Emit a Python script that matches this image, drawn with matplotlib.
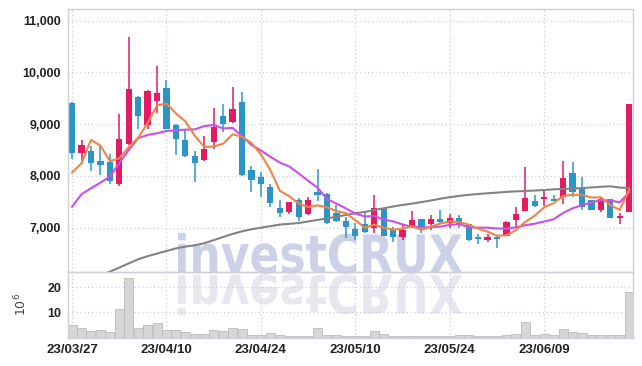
import numpy as np
import matplotlib.pyplot as plt
from matplotlib.font_manager import FontProperties
from matplotlib.patches import PathPatch
from matplotlib.textpath import TextPath
from matplotlib.transforms import Affine2D

# trading days (yy/mm/dd)
dates = ["23/03/27", "23/03/28", "23/03/29", "23/03/30", "23/03/31",
         "23/04/03", "23/04/04", "23/04/05", "23/04/06", "23/04/07",
         "23/04/10", "23/04/11", "23/04/12", "23/04/13", "23/04/14",
         "23/04/17", "23/04/18", "23/04/19", "23/04/20", "23/04/21",
         "23/04/24", "23/04/25", "23/04/26", "23/04/27", "23/04/28",
         "23/05/02", "23/05/03", "23/05/04", "23/05/08", "23/05/09",
         "23/05/10", "23/05/11", "23/05/12", "23/05/15", "23/05/16",
         "23/05/17", "23/05/18", "23/05/19", "23/05/22", "23/05/23",
         "23/05/24", "23/05/25", "23/05/26", "23/05/30", "23/05/31",
         "23/06/01", "23/06/02", "23/06/05", "23/06/07", "23/06/08",
         "23/06/09", "23/06/12", "23/06/13", "23/06/14", "23/06/15",
         "23/06/16", "23/06/19", "23/06/20", "23/06/21", "23/06/22"]

opens = [9418, 8450, 8480, 8290, 8265, 7840, 8620, 9530, 8990, 9456,
         9700, 8985, 8696, 8387, 8310, 8664, 9161, 9050, 9430, 8116,
         7980, 7790, 7380, 7304, 7536, 7259, 7685, 7650, 7290, 7135,
         6975, 7066, 6990, 7360, 6969, 6814, 7033, 7168, 7072, 7168,
         7085, 7182, 7072, 6826, 6760, 6826, 6845, 7149, 7330, 7516,
         7555, 7555, 7590, 8052, 7774, 7530, 7342, 7549, 7182, 7310]
highs = [9430, 8690, 8580, 8590, 8420, 9195, 10680, 9550, 9665, 10130,
         9857, 9000, 8890, 8490, 8780, 9305, 9390, 9710, 9620, 8190,
         8083, 7845, 7536, 7500, 7570, 7585, 8130, 7665, 7440, 7200,
         7085, 7290, 7625, 7370, 7020, 7050, 7320, 7170, 7250, 7340,
         7260, 7240, 7075, 6870, 6870, 6840, 7120, 7395, 8180, 7640,
         7700, 7640, 8280, 8265, 7975, 7540, 7570, 7555, 7290, 9395]
lows = [8320, 8230, 8100, 8020, 7850, 7810, 8600, 8900, 8900, 9225,
        8900, 8410, 8375, 7890, 8296, 8516, 8857, 9030, 8000, 7696,
        7600, 7395, 7200, 7265, 7130, 7245, 7510, 7065, 7116, 6795,
        6762, 6890, 6892, 6830, 6715, 6765, 7008, 6900, 6955, 7097,
        6990, 6990, 6750, 6690, 6730, 6600, 6840, 7019, 7320, 7406,
        7420, 7510, 7458, 7600, 7340, 7340, 7300, 7190, 7066, 7300]
closes = [8451, 8600, 8257, 8210, 7910, 8716, 9680, 9160, 9650, 9610,
          8905, 8722, 8387, 8257, 8528, 8948, 9000, 9290, 8020, 7923,
          7850, 7484, 7290, 7497, 7200, 7530, 7640, 7097, 7135, 7008,
          6845, 6923, 7375, 6840, 6826, 6955, 7149, 7008, 7168, 7116,
          7182, 7072, 6762, 6776, 6826, 6787, 7116, 7265, 7570, 7426,
          7600, 7516, 7955, 7690, 7406, 7342, 7549, 7193, 7226, 9390]

ma5 = [8065, 8245, 8696, 8586, 8286, 8339, 8555, 8735, 9023, 9363,
       9401, 9209, 9055, 8776, 8560, 8568, 8624, 8805, 8757, 8636,
       8417, 8113, 7713, 7609, 7464, 7400, 7431, 7393, 7320, 7282,
       7145, 7002, 7057, 6998, 6962, 6984, 7029, 6956, 7021, 7079,
       7125, 7109, 7060, 6982, 6924, 6845, 6853, 6954, 7113, 7233,
       7395, 7475, 7613, 7637, 7633, 7582, 7588, 7436, 7343, 7740]
ma10 = [7406, 7646, 7762, 7870, 7986, 8245, 8503, 8729, 8793, 8824,
        8870, 8882, 8895, 8900, 8962, 8985, 8917, 8930, 8767, 8598,
        8493, 8369, 8259, 8183, 8050, 7908, 7772, 7553, 7465, 7373,
        7273, 7217, 7225, 7159, 7122, 7064, 7015, 7006, 7010, 7021,
        7054, 7069, 7008, 7001, 7001, 6985, 6981, 7007, 7047, 7078,
        7120, 7164, 7284, 7375, 7433, 7489, 7532, 7525, 7490, 7687]
ma60 = [5850, 5930, 6010, 6080, 6150, 6230, 6310, 6390, 6450, 6500,
        6550, 6600, 6635, 6660, 6700, 6760, 6820, 6880, 6930, 6970,
        7000, 7030, 7060, 7075, 7090, 7120, 7150, 7180, 7210, 7245,
        7280, 7305, 7340, 7375, 7410, 7440, 7465, 7495, 7525, 7560,
        7590, 7615, 7635, 7652, 7665, 7678, 7692, 7702, 7710, 7718,
        7728, 7742, 7748, 7756, 7766, 7778, 7790, 7800, 7775, 7770]

# volume in millions
volume = [5.1, 3.8, 2.4, 2.8, 2.0, 11.3, 23.6, 3.8, 5.1, 5.8,
          3.0, 3.0, 2.0, 1.5, 1.5, 3.0, 2.4, 3.8, 3.4, 1.1,
          1.1, 1.6, 1.1, 0.7, 0.7, 0.7, 3.8, 1.1, 0.9, 0.7,
          0.7, 0.7, 2.6, 1.2, 0.7, 0.6, 0.6, 0.6, 0.6, 0.6,
          0.5, 0.8, 0.8, 0.5, 0.5, 0.5, 0.8, 1.2, 6.2, 0.8,
          1.2, 0.9, 3.4, 2.0, 1.6, 0.8, 0.8, 0.8, 0.8, 18.0]

price_ticks = [7000, 8000, 9000, 10000, 11000]
vol_ticks = [10, 20]

plt.rcParams['font.family'] = ['Liberation Sans', 'DejaVu Sans']

W, H = 642, 366
fig = plt.figure(figsize=(W / 100, H / 100), dpi=100)
fig.patch.set_facecolor('white')
ax = fig.add_axes([68 / W, 1 - 272 / H, (632.5 - 68) / W, (272 - 9) / H])
axv = fig.add_axes([68 / W, 1 - 337.5 / H, (632.5 - 68) / W, (337.5 - 272) / H], sharex=ax)

x = np.arange(len(dates))
o = np.array(opens)
c = np.array(closes)
up_col = "#e31b63"
down_col = "#2c95c7"
cols = [up_col if cc >= oo else down_col for oo, cc in zip(o, c)]

ax.vlines(x, lows, highs, colors=cols, linewidth=1.1, zorder=2)
body_h = np.maximum(np.abs(c - o), 25)
ax.bar(x, body_h, bottom=np.minimum(o, c), width=0.66, color=cols, linewidth=0, zorder=2)

ax.plot(x, ma60, color="#838383", lw=1.5, zorder=3)
ax.plot(x, ma10, color="#c94fec", lw=1.5, zorder=3)
ax.plot(x, ma5, color="#f08447", lw=1.5, zorder=3)

axv.bar(x, volume, width=0.96, color="#d6d6d8", edgecolor="#bcbcbe", linewidth=0.6, zorder=2)

tick_idx = list(range(0, len(dates), 10))
for a in (ax, axv):
    a.set_facecolor('none')
    a.grid(True, linestyle=(0, (1, 2.5)), color="#c3c6da", linewidth=0.8, zorder=0)
    a.set_axisbelow(True)
    a.tick_params(length=0, pad=5, labelsize=9, labelcolor="#222222")
    for s in a.spines.values():
        s.set_color("#d0d0d8")
        s.set_linewidth(1.0)

ax.set_xlim(-0.43, 59.35)
ax.set_ylim(6144, 11226)
ax.set_yticks(price_ticks)
ax.set_yticklabels([f"{v:,}" for v in price_ticks], fontweight='bold')
ax.set_xticks(tick_idx)
ax.tick_params(labelbottom=False)

axv.set_ylim(0, 26)
axv.set_yticks(vol_ticks)
axv.set_yticklabels([str(v) for v in vol_ticks], fontweight='bold')
axv.set_xticklabels([dates[i] for i in tick_idx], fontweight='bold', fontsize=9.5)
axv.set_ylabel(r"$10^6$", fontsize=9, color="#444444")
axv.yaxis.set_label_coords(-0.069, 0.5)

# watermark with reflection
fp = FontProperties(family='DejaVu Sans', weight='bold')
tp = TextPath((0, 0), "investCRUX", size=100, prop=fp)
bb = tp.get_extents()
sx = 284 / bb.width
sy = 41 / bb.height
px = Affine2D().scale(1 / 100) + fig.dpi_scale_trans
t1 = Affine2D().translate(-bb.x0, 0).scale(sx, sy).translate(178, H - 273) + px
fig.add_artist(PathPatch(tp, transform=t1, facecolor="#cbd2e7", edgecolor='none', zorder=-1))
t2 = Affine2D().translate(-bb.x0, 0).scale(sx, -sy).translate(178, H - 275) + px
fig.add_artist(PathPatch(tp, transform=t2, facecolor="#e6e7ef", edgecolor='none', zorder=-1))

fig.savefig("out.png", dpi=100)
